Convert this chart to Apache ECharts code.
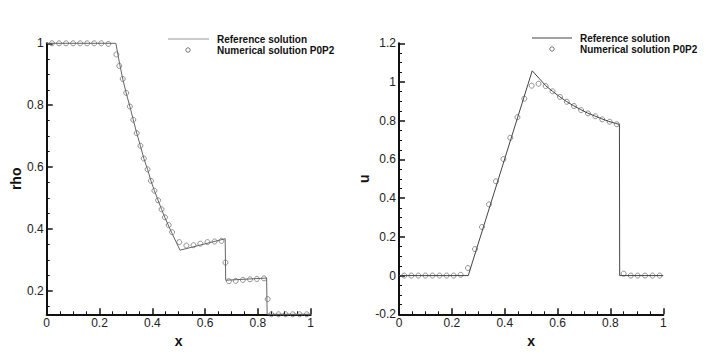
<!DOCTYPE html>
<html>
<head>
<meta charset="utf-8">
<script src="https://cdn.jsdelivr.net/npm/echarts@6/dist/echarts.min.js"></script>
<style>
html,body{margin:0;padding:0;background:#fff;}
#main{width:706px;height:355px;}
</style>
</head>
<body>
<div id="main"></div>
<script>
// rho : reference solution (exact) and numerical P0P2 points
let rhoRefX=[0,0.262,0.276,0.288,0.301,0.315,0.328,0.341,0.355,0.368,0.382,0.395,0.408,0.422,0.435,0.448,0.462,0.475,0.505,0.676,0.678,0.833,0.835,1];
let rhoRefY=[1,1,0.935,0.885,0.84,0.796,0.753,0.71,0.669,0.628,0.593,0.556,0.524,0.493,0.464,0.437,0.41,0.386,0.332,0.369,0.235,0.242,0.125,0.125];
let rhoNumX=[0.02,0.0467,0.0733,0.1,0.1267,0.1533,0.18,0.2067,0.2333,0.264,0.275,0.288,0.301,0.315,0.328,0.341,0.355,0.368,0.382,0.395,0.408,0.422,0.435,0.448,0.462,0.475,0.502,0.529,0.556,0.582,0.609,0.636,0.662,0.677,0.69,0.716,0.743,0.77,0.796,0.823,0.837,0.851,0.878,0.905,0.932,0.958,0.985];
let rhoNumY=[1,1,1,1,1,1,1,1,0.998,0.964,0.927,0.885,0.84,0.796,0.753,0.71,0.669,0.628,0.593,0.556,0.524,0.493,0.464,0.438,0.413,0.39,0.358,0.347,0.348,0.353,0.358,0.36,0.362,0.292,0.232,0.233,0.236,0.238,0.239,0.241,0.174,0.125,0.125,0.125,0.125,0.125,0.125];

// u : reference and numerical
let uRefX=[0,0.262,0.504,0.53,0.555,0.58,0.607,0.633,0.66,0.687,0.713,0.74,0.767,0.793,0.82,0.834,0.835,1];
let uRefY=[0,0,1.058,1.019,0.981,0.953,0.925,0.9,0.878,0.858,0.84,0.825,0.81,0.797,0.786,0.781,0,0];
let uNumX=[0.02,0.0467,0.0733,0.1,0.1267,0.1533,0.18,0.2067,0.2333,0.261,0.2875,0.314,0.3405,0.367,0.395,0.421,0.448,0.474,0.502,0.528,0.555,0.581,0.609,0.635,0.662,0.689,0.715,0.743,0.769,0.797,0.824,0.85,0.877,0.903,0.931,0.959,0.986];
let uNumY=[0,0,0,0,0,0,0,0,0.004,0.039,0.137,0.251,0.368,0.487,0.602,0.712,0.818,0.914,0.981,0.991,0.979,0.952,0.923,0.898,0.876,0.855,0.838,0.823,0.807,0.795,0.782,0.01,0,0,0,0,0];

// tick values for the rho axis (its min is 0.125, so ticks are given by hand)
let rhoMajor=[0.2,0.4,0.6,0.8,1];
let rhoMinor=[0.15,0.25,0.3,0.35,0.45,0.5,0.55,0.65,0.7,0.75,0.85,0.9,0.95];

let legendNames=['Reference solution','Numerical solution P0P2'];

function zip(xs,ys){
	let out=[];
	for(let i=0;i<xs.length;i++){ out.push([xs[i],ys[i]]); }
	return out;
}

let axisColor='#111';
let labelStyle={color:'#222',fontSize:12,fontFamily:'"Liberation Sans", Arial, sans-serif'};
let nameStyle={color:'#111',fontSize:14,fontWeight:'bold',fontFamily:'"Liberation Sans", Arial, sans-serif'};
let legendFont='bold 10px "Liberation Sans", Arial, sans-serif';

function xAxisOf(grid){
	return {
		gridIndex:grid,type:'value',min:0,max:1,interval:0.2,
		name:'x',nameLocation:'middle',nameGap:17,nameTextStyle:nameStyle,
		axisLine:{show:true,onZero:false,lineStyle:{color:axisColor,width:2}},
		axisTick:{show:true,inside:true,length:6,lineStyle:{color:axisColor,width:1.5}},
		minorTick:{show:true,splitNumber:4,length:3,lineStyle:{color:axisColor,width:1}},
		axisLabel:{margin:3,...labelStyle},
		splitLine:{show:false}
	};
}

let myChart=echarts.init(document.getElementById('main'),null,{renderer:'svg'});

let symStyle={color:'rgba(255,255,255,0)',borderColor:'#555',borderWidth:0.8};

myChart.setOption({
	animation:false,
	backgroundColor:'#fff',
	grid:[
		{left:46.7,top:43.3,width:264,height:271,outerBoundsMode:'none'},
		{left:399,top:43.3,width:264.3,height:271,outerBoundsMode:'none'}
	],
	xAxis:[xAxisOf(0),xAxisOf(1)],
	yAxis:[
		{
			gridIndex:0,type:'value',min:0.125,max:1,
			name:'rho',nameLocation:'middle',nameGap:21,nameTextStyle:nameStyle,
			axisLine:{show:true,onZero:false,lineStyle:{color:axisColor,width:2}},
			axisTick:{show:true,inside:true,length:6,customValues:rhoMajor,lineStyle:{color:axisColor,width:1.5}},
			axisLabel:{margin:3,customValues:rhoMajor,...labelStyle},
			splitLine:{show:false}
		},
		{
			gridIndex:0,type:'value',min:0.125,max:1,position:'left',
			axisLine:{show:false},
			axisTick:{show:true,inside:true,length:3,customValues:rhoMinor,lineStyle:{color:axisColor,width:1}},
			axisLabel:{show:false},
			splitLine:{show:false}
		},
		{
			gridIndex:1,type:'value',min:-0.2,max:1.2,interval:0.2,
			name:'u',nameLocation:'middle',nameGap:21,nameTextStyle:nameStyle,
			axisLine:{show:true,onZero:false,lineStyle:{color:axisColor,width:2}},
			axisTick:{show:true,inside:true,length:6,lineStyle:{color:axisColor,width:1.5}},
			minorTick:{show:true,splitNumber:4,length:3,lineStyle:{color:axisColor,width:1}},
			axisLabel:{margin:3,...labelStyle},
			splitLine:{show:false}
		}
	],
	series:[
		{
			name:legendNames[0],type:'line',xAxisIndex:0,yAxisIndex:0,
			data:zip(rhoRefX,rhoRefY),showSymbol:false,clip:false,
			lineStyle:{color:'#666',width:1}
		},
		{
			name:legendNames[1],type:'scatter',xAxisIndex:0,yAxisIndex:0,
			data:zip(rhoNumX,rhoNumY),symbol:'circle',symbolSize:5,clip:false,
			itemStyle:symStyle
		},
		{
			name:legendNames[0],type:'line',xAxisIndex:1,yAxisIndex:2,
			data:zip(uRefX,uRefY),showSymbol:false,clip:false,
			lineStyle:{color:'#444',width:1}
		},
		{
			name:legendNames[1],type:'scatter',xAxisIndex:1,yAxisIndex:2,
			data:zip(uNumX,uNumY),symbol:'circle',symbolSize:5,clip:false,
			itemStyle:symStyle
		}
	],
	//图例 (画在每个图右上角)
	graphic:[
		{type:'line',shape:{x1:168,y1:39,x2:209,y2:39},style:{stroke:'#999',lineWidth:1.2}},
		{type:'circle',shape:{cx:188,cy:50,r:2.2},style:{fill:'none',stroke:'#555',lineWidth:0.8}},
		{type:'text',x:217,y:39,style:{text:legendNames[0],fill:'#111',font:legendFont,verticalAlign:'middle'}},
		{type:'text',x:217,y:50,style:{text:legendNames[1],fill:'#111',font:legendFont,verticalAlign:'middle'}},
		{type:'line',shape:{x1:532,y1:38,x2:572,y2:38},style:{stroke:'#444',lineWidth:1}},
		{type:'circle',shape:{cx:552,cy:49,r:2.2},style:{fill:'none',stroke:'#555',lineWidth:0.8}},
		{type:'text',x:580,y:38,style:{text:legendNames[0],fill:'#111',font:legendFont,verticalAlign:'middle'}},
		{type:'text',x:580,y:49,style:{text:legendNames[1],fill:'#111',font:legendFont,verticalAlign:'middle'}}
	]
});
</script>
</body>
</html>
